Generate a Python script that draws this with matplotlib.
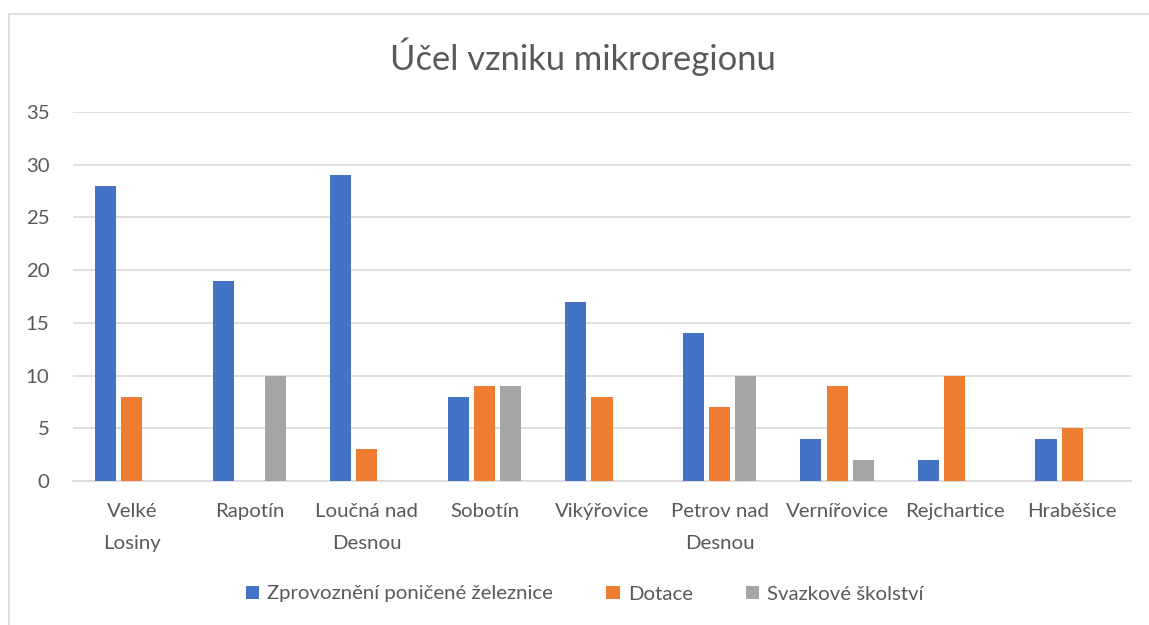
import matplotlib
matplotlib.use("Agg")
import matplotlib.pyplot as plt
import numpy as np
from matplotlib.patches import Rectangle

categories = ["Velké\nLosiny", "Rapotín", "Loučná nad\nDesnou", "Sobotín", "Vikýřovice",
              "Petrov nad\nDesnou", "Vernířovice", "Rejchartice", "Hraběšice"]
zprovozneni = [28, 19, 29, 8, 17, 14, 4, 2, 4]
dotace = [8, 0, 3, 9, 8, 7, 9, 10, 5]
skolstvi = [0, 10, 0, 9, 0, 10, 2, 0, 0]
series_names = ["Zprovoznění poničené železnice", "Dotace", "Svazkové školství"]
colors = ["#4472C4", "#ED7D31", "#A5A5A5"]
yticks = [0, 5, 10, 15, 20, 25, 30, 35]

plt.rcParams['font.family'] = ['Lato', 'DejaVu Sans']
txt = "#595959"
fs = 14.7

W, H = 1149, 625
fig = plt.figure(figsize=(W/100, H/100), dpi=100)

# chart border
fig.patches.append(Rectangle((8.5/W, -0.1), (W + 20)/W, (H - 13.5)/H + 0.1,
                             transform=fig.transFigure, fill=False,
                             edgecolor="#d9d9d9", linewidth=1.2))

ax = fig.add_axes([73/W, (H - 481)/H, (1131 - 73)/W, (481 - 112)/H])
x = np.arange(len(categories))
bw = 0.18
gap = 0.043
for i, (vals, c, name) in enumerate(zip([zprovozneni, dotace, skolstvi], colors, series_names)):
    ax.bar(x + (i - 1) * (bw + gap), vals, width=bw, color=c, label=name, zorder=3)

ax.set_xlim(-0.5, len(categories) - 0.5)
ax.set_ylim(0, 35)
ax.set_yticks(yticks)
ax.yaxis.grid(True, color="#d9d9d9", linewidth=1.2, zorder=0)
for s in ["top", "right", "left"]:
    ax.spines[s].set_visible(False)
ax.spines["bottom"].set_color("#d9d9d9")
ax.spines["bottom"].set_linewidth(1.2)
ax.set_xticks(x)
ax.set_xticklabels(categories, fontsize=fs, color=txt, linespacing=2.05, va="top")
ax.tick_params(axis="x", length=0, pad=16)
ax.tick_params(axis="y", length=0, pad=17, labelsize=fs, labelcolor=txt)

fig.text(0.507, 1 - 57/H, "Účel vzniku mikroregionu", ha="center", va="center",
         fontsize=24.8, color=txt)

fig.legend(loc="center", bbox_to_anchor=(0.509, 1 - 594/H), ncol=3, frameon=False,
           fontsize=fs, labelcolor=txt, handlelength=0.65, handleheight=0.65,
           handletextpad=0.4, columnspacing=2.6)

fig.savefig("out.png", dpi=100)
